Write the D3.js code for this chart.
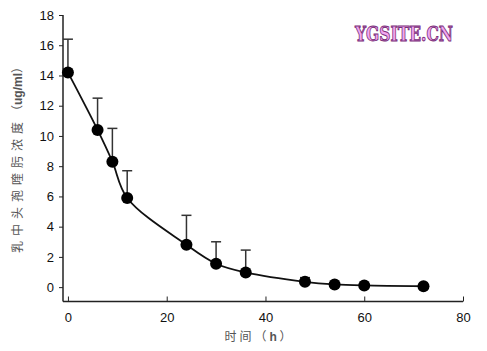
<!DOCTYPE html>
<html>
<head>
<meta charset="utf-8">
<script src="https://cdn.jsdelivr.net/npm/d3@7"></script>
<style>
  body { margin: 0; background: #fff; }
  svg { display: block; }
</style>
</head>
<body>
<div id="chart"></div>
<script>
(function () {
  "use strict";

  // Sampling times (h), mean concentration and upper error (SD)
  const hours = [0, 6, 9, 12, 24, 30, 36, 48, 54, 60, 72];
  const conc = [14.2, 10.4, 8.3, 5.9, 2.8, 1.55, 0.97, 0.35, 0.18, 0.11, 0.06];
  const sdUp = [2.2, 2.1, 2.2, 1.8, 1.95, 1.45, 1.48, 0.28, 0.05, 0.03, 0.02];
  const xTicks = [0, 20, 40, 60, 80];
  const yTicks = [0, 2, 4, 6, 8, 10, 12, 14, 16, 18];

  const W = 487, H = 351;
  const FONT = "'Liberation Sans', Arial, sans-serif";
  const FONT_CJK = "'Noto Sans CJK SC', sans-serif";

  const svg = d3.select("#chart").append("svg")
    .attr("width", W).attr("height", H);

  // axis lines sit a little outside the zero ticks, like the original
  const x = d3.scaleLinear().domain([-1, 80]).range([63, 463]);
  const y = d3.scaleLinear().domain([-0.95, 18]).range([301.5, 15]);

  // Y axis
  const yAxis = svg.append("g").attr("transform", `translate(${x(-1)},0)`)
    .call(d3.axisLeft(y).tickValues(yTicks).tickSize(4).tickPadding(5).tickSizeOuter(0));
  yAxis.select(".domain").attr("d", `M0,${y(18)}V${y(-0.95)}`).attr("stroke", "#222").attr("stroke-width", 1.5);
  yAxis.selectAll(".tick line").attr("stroke", "#222").attr("stroke-width", 1);
  yAxis.selectAll(".tick text").attr("font-family", FONT).attr("font-size", "13px").attr("fill", "#111");

  // X axis (ticks point inward)
  const xAxis = svg.append("g").attr("transform", `translate(0,${y(-0.95)})`)
    .call(d3.axisBottom(x).tickValues(xTicks).tickSize(-5).tickPadding(11).tickSizeOuter(0));
  xAxis.select(".domain").attr("d", `M${x(-1)},0H${x(80)}`).attr("stroke", "#222").attr("stroke-width", 1.5);
  xAxis.selectAll(".tick line").attr("stroke", "#222").attr("stroke-width", 1);
  xAxis.selectAll(".tick text").attr("font-family", FONT).attr("font-size", "13px").attr("fill", "#111");

  const pts = hours.map((h, i) => ({ h, c: conc[i], e: sdUp[i] }));

  // Error bars (upper only)
  const eb = svg.append("g").attr("stroke", "#333").attr("stroke-width", 1.5);
  pts.forEach(d => {
    if (d.e < 0.1) return;
    eb.append("line").attr("x1", x(d.h)).attr("x2", x(d.h))
      .attr("y1", y(d.c)).attr("y2", y(d.c + d.e));
    eb.append("line").attr("x1", x(d.h) - 5).attr("x2", x(d.h) + 5)
      .attr("y1", y(d.c + d.e)).attr("y2", y(d.c + d.e));
  });

  // Smoothed line
  const line = d3.line().x(d => x(d.h)).y(d => y(d.c)).curve(d3.curveCatmullRom.alpha(0.5));
  svg.append("path").datum(pts).attr("d", line)
    .attr("fill", "none").attr("stroke", "#111").attr("stroke-width", 1.8);

  // Markers
  svg.append("g").selectAll("circle").data(pts).join("circle")
    .attr("cx", d => x(d.h)).attr("cy", d => y(d.c)).attr("r", 6)
    .attr("fill", "#000");

  // Y label
  const yl = svg.append("text")
    .attr("transform", `translate(22,157) rotate(-90)`)
    .attr("text-anchor", "middle").attr("fill", "#555")
    .attr("font-family", FONT_CJK).attr("font-size", "12px");
  yl.append("tspan").attr("letter-spacing", "5px").text("乳中头孢喹肟浓度");
  yl.append("tspan").text("（");
  yl.append("tspan").attr("font-family", FONT).attr("font-weight", "bold").text("ug/ml");
  yl.append("tspan").text("）");

  // X label
  const xl = svg.append("text")
    .attr("x", 258).attr("y", 341).attr("text-anchor", "middle").attr("fill", "#555")
    .attr("font-family", FONT_CJK).attr("font-size", "12px");
  xl.append("tspan").attr("letter-spacing", "3px").text("时间（");
  xl.append("tspan").attr("font-family", FONT).attr("font-weight", "bold").text("h");
  xl.append("tspan").text(" ）");

  // Watermark
  svg.append("text").attr("x", 355).attr("y", 41)
    .attr("textLength", 98).attr("lengthAdjust", "spacingAndGlyphs")
    .attr("font-family", "'DejaVu Serif', serif").attr("font-weight", "bold")
    .attr("font-size", "21px").attr("fill", "#f2a6f0")
    .attr("stroke", "#7a2e7a").attr("stroke-width", 1)
    .text("YGSITE.CN");
})();
</script>
</body>
</html>
